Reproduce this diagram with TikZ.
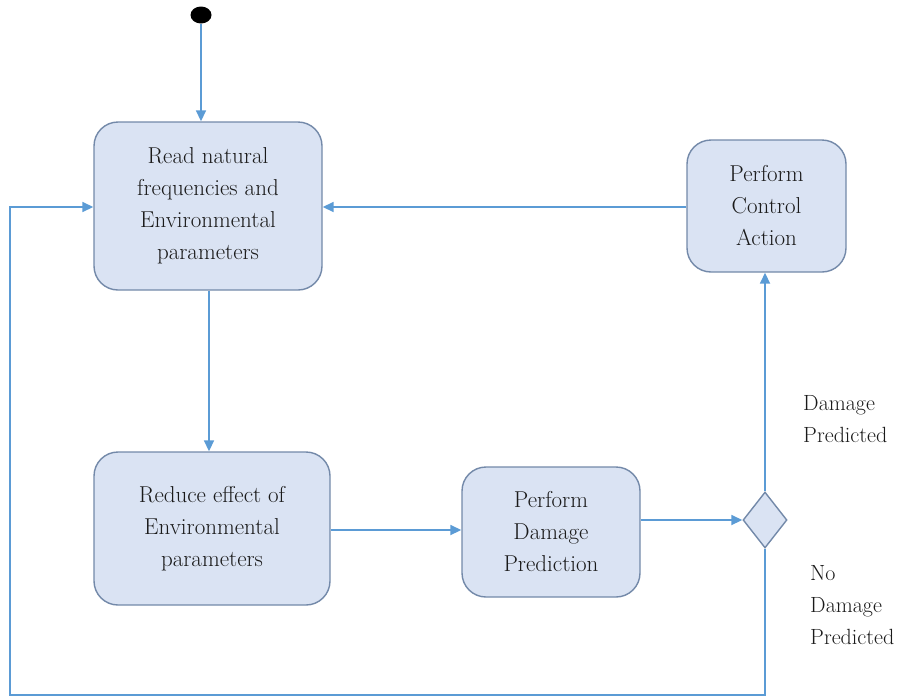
\documentclass[tikz,border=0pt]{standalone}
\usetikzlibrary{arrows.meta,shapes.geometric}
\definecolor{boxfill}{HTML}{DAE3F3}
\definecolor{boxline}{HTML}{7389A9}
\definecolor{flow}{HTML}{5B9BD5}
\definecolor{ink}{HTML}{1A1A1A}
\tikzset{
  activity/.style={draw=boxline, fill=boxfill, line width=1.4pt, rounded corners=24pt,
    align=center, text=ink, font=\fontsize{23}{32}\selectfont, inner sep=0pt},
  choice/.style={draw=boxline, fill=boxfill, line width=1.4pt, diamond, minimum width=44pt,
    minimum height=56pt, inner sep=0pt},
  flowline/.style={draw=flow, line width=1.7pt},
  flowarrow/.style={flowline, -{Triangle[length=11pt,width=10pt]}},
  guard/.style={align=left, text=ink, font=\fontsize{22}{32}\selectfont, anchor=north west, inner sep=0pt}
}
\begin{document}
\begin{tikzpicture}[x=1pt,y=-1pt]
\useasboundingbox (0,0) rectangle (917,699);
% start point
\node[fill=black, ellipse, minimum width=21pt, minimum height=17pt, inner sep=0pt] (start) at (201,15) {};
% activities
\node[activity, minimum width=228pt, minimum height=168pt] (read) at (208,206) {Read natural\\frequencies and\\Environmental\\parameters};
\node[activity, minimum width=236pt, minimum height=153pt] (reduce) at (212,528.5) {Reduce effect of\\Environmental\\parameters};
\node[activity, minimum width=178pt, minimum height=130pt] (predict) at (551,532) {Perform\\Damage\\Prediction};
\node[activity, minimum width=159pt, minimum height=132pt] (control) at (766.5,206) {Perform\\Control\\Action};
\node[choice] (decide) at (765,520) {};
% turning points of the return loop
\coordinate (lb) at (765,695);
\coordinate (lleft) at (10,695);
\coordinate (ltop) at (10,207);
% connectors
\draw[flowarrow] (start.south) -- (start.south |- read.north);
\draw[flowarrow] (control.west |- 0,207) -- (read.east |- 0,207);
\draw[flowarrow] (read.south -| 209,0) -- (reduce.north -| 209,0);
\draw[flowarrow] (reduce.east |- 0,530) -- (predict.west |- 0,530);
\draw[flowarrow] (predict.east |- decide.west) -- (decide.west);
\draw[flowarrow] (decide.north) -- (decide.north |- control.south);
\draw[flowarrow] (decide.south) -- (lb) -- (lleft) -- (ltop) -- (read.west |- ltop);
% guard labels
\node[guard] (dmg) at (803,395) {Damage\\Predicted};
\node[guard] (nodmg) at (810,565) {No\\Damage\\Predicted};
\end{tikzpicture}
\end{document}
